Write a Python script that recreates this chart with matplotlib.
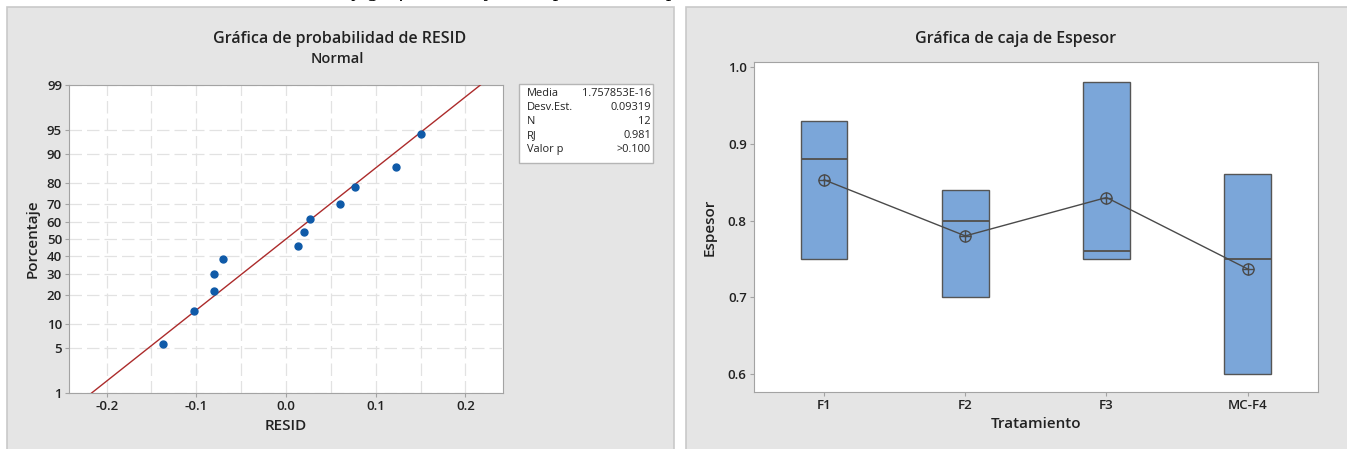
import numpy as np
import matplotlib
matplotlib.use('Agg')
import matplotlib.pyplot as plt
from matplotlib.patches import Rectangle
from statistics import NormalDist

# --- data: normal probability plot of residuals ---
resid = [-0.137, -0.103, -0.080, -0.080, -0.070, 0.013, 0.020, 0.027, 0.060, 0.077, 0.123, 0.150]
percent = [5.6, 13.7, 21.8, 29.8, 37.9, 46.0, 54.0, 62.1, 70.2, 78.2, 86.3, 94.4]
fit_mean = 1.757853e-16
fit_sd = 0.09319
stat_names = ['Media', 'Desv.Est.', 'N', 'RJ', 'Valor p']
stat_values = ['1.757853E-16', '0.09319', '12', '0.981', '>0.100']
prob_ticks = [1, 5, 10, 20, 30, 40, 50, 60, 70, 80, 90, 95, 99]

# --- data: box plot of Espesor ---
groups = ['F1', 'F2', 'F3', 'MC-F4']
box_low = [0.75, 0.70, 0.75, 0.60]
box_high = [0.93, 0.84, 0.98, 0.86]
medians = [0.88, 0.80, 0.76, 0.75]
means = [0.853, 0.780, 0.830, 0.737]

W, H = 1347, 449
FONT = 'Open Sans'
plt.rcParams['font.family'] = [FONT, 'DejaVu Sans']

fig = plt.figure(figsize=(W / 100, H / 100), dpi=100)
fig.patch.set_facecolor('white')


def fx(px):
    return px / W


def fy(py):
    return 1 - py / H


# gray panels behind each chart
panel_bg = '#e5e5e5'
panel_edge = '#c9c9c9'
fig.patches.append(Rectangle((fx(7), -0.05), fx(667), fy(7) + 0.05, transform=fig.transFigure,
                             facecolor=panel_bg, edgecolor=panel_edge, lw=1.2, zorder=-5))
fig.patches.append(Rectangle((fx(686), -0.05), fx(670), fy(7) + 0.05, transform=fig.transFigure,
                             facecolor=panel_bg, edgecolor=panel_edge, lw=1.2, zorder=-5))

# cut caption line of the document above the charts
fig.text(fx(50), fy(-3.5), 'Anexo 2. Normalidad de residuos y gráfica de caja de espesor de las probetas',
         family='Liberation Serif', style='italic', fontsize=16, va='baseline', ha='left', color='black')

spine_col = '#a3a3a3'
grid_col = '#e2e2e2'
txt_col = '#222222'

# ---------------- left: probability plot ----------------
nd = NormalDist()


def fwd(p):
    p = np.clip(np.asarray(p, dtype=float), 0.001, 99.999)
    return np.vectorize(lambda v: nd.inv_cdf(v / 100.0), otypes=[float])(p)


def inv(z):
    z = np.asarray(z, dtype=float)
    return np.vectorize(lambda v: nd.cdf(v) * 100.0, otypes=[float])(z)


ax1 = fig.add_axes([fx(69), fy(393), fx(434), (393 - 85) / H])
ax1.set_yscale('function', functions=(fwd, inv))
ax1.set_xlim(-0.242, 0.242)
ax1.set_ylim(1, 99)
ax1.set_yticks(prob_ticks)
ax1.set_yticklabels([str(t) for t in prob_ticks])
ax1.yaxis.set_minor_locator(matplotlib.ticker.NullLocator())
ax1.set_xticks([-0.2, -0.1, 0.0, 0.1, 0.2])
ax1.set_xticklabels(['-0.2', '-0.1', '0.0', '0.1', '0.2'])
ax1.set_xticks(np.arange(-0.2, 0.2001, 0.05), minor=True)
ax1.tick_params(axis='x', which='minor', length=0)
ax1.tick_params(which='major', length=3, color=spine_col, labelsize=9.5, pad=2, labelcolor=txt_col)
for lab in ax1.get_xticklabels() + ax1.get_yticklabels():
    lab.set_fontweight('semibold')
for s in ax1.spines.values():
    s.set_color(spine_col)
ax1.grid(True, which='both', axis='x', color=grid_col, lw=0.9, linestyle=(0, (10, 4)))
ax1.grid(True, which='major', axis='y', color=grid_col, lw=0.9, linestyle=(0, (10, 4)))
ax1.set_axisbelow(True)

# fitted normal line
p_line = np.array([1.0, 99.0])
ax1.plot(fit_mean + fit_sd * fwd(p_line), p_line, color='#ac2b2b', lw=1.0, zorder=3)
ax1.plot(resid, percent, 'o', color='#0f5aa8', markersize=5, zorder=4)

ax1.set_xlabel('RESID', fontsize=11, fontweight='semibold', labelpad=4, color=txt_col)
ax1.set_ylabel('Porcentaje', fontsize=11, fontweight='semibold', labelpad=5, color=txt_col)

fig.text(fx(340), fy(39), 'Gráfica de probabilidad de RESID', ha='center', va='center',
         fontsize=11.5, fontweight='semibold', color=txt_col)
fig.text(fx(337), fy(59), 'Normal', ha='center', va='center', fontsize=10.5,
         fontweight='semibold', color=txt_col)

# stats box
fig.patches.append(Rectangle((fx(519), fy(163)), fx(134), (163 - 84) / H, transform=fig.transFigure,
                             facecolor='white', edgecolor='#b5b5b5', lw=1.0, zorder=2))
for i, (nm, val) in enumerate(zip(stat_names, stat_values)):
    yy = fy(94 + i * 13.8)
    fig.text(fx(527), yy, nm, ha='left', va='center', fontsize=7.9, color=txt_col, zorder=3)
    fig.text(fx(651), yy, val, ha='right', va='center', fontsize=7.9, color=txt_col, zorder=3)

# ---------------- right: box plot ----------------
ax2 = fig.add_axes([fx(753.6), fy(392), fx(564.6), (392 - 62) / H])
pos = np.arange(1, len(groups) + 1)
stats = []
for lo, hi, md in zip(box_low, box_high, medians):
    stats.append({'whislo': lo, 'q1': lo, 'med': md, 'q3': hi, 'whishi': hi, 'fliers': []})
ax2.bxp(stats, positions=pos, widths=0.33, patch_artist=True, showcaps=False,
        boxprops=dict(facecolor='#7ba6d9', edgecolor='#555555', lw=1.0),
        medianprops=dict(color='#555555', lw=1.4),
        whiskerprops=dict(color='#555555', lw=1.0), manage_ticks=False)
ax2.plot(pos, means, color='#4a4a4a', lw=1.0, zorder=5)
ax2.plot(pos, means, linestyle='none', marker='o', markersize=8, markerfacecolor='none',
         markeredgecolor='#4a4a4a', markeredgewidth=1.0, zorder=6)
ax2.plot(pos, means, linestyle='none', marker='+', markersize=8, color='#4a4a4a',
         markeredgewidth=1.0, zorder=6)
ax2.set_xlim(0.5, 4.5)
ax2.set_ylim(0.5767, 1.0065)
ax2.set_xticks(pos)
ax2.set_xticklabels(groups)
ax2.set_yticks([0.6, 0.7, 0.8, 0.9, 1.0])
ax2.set_yticklabels(['0.6', '0.7', '0.8', '0.9', '1.0'])
ax2.tick_params(length=3, color=spine_col, labelsize=9.5, pad=2, labelcolor=txt_col)
for lab in ax2.get_xticklabels() + ax2.get_yticklabels():
    lab.set_fontweight('semibold')
for s in ax2.spines.values():
    s.set_color(spine_col)
ax2.set_xlabel('Tratamiento', fontsize=11, fontweight='semibold', labelpad=4, color=txt_col)
ax2.set_ylabel('Espesor', fontsize=11, fontweight='semibold', labelpad=8, color=txt_col)
fig.text(fx(1016), fy(39), 'Gráfica de caja de Espesor', ha='center', va='center',
         fontsize=11.5, fontweight='semibold', color=txt_col)

fig.savefig('out.png', dpi=100)
